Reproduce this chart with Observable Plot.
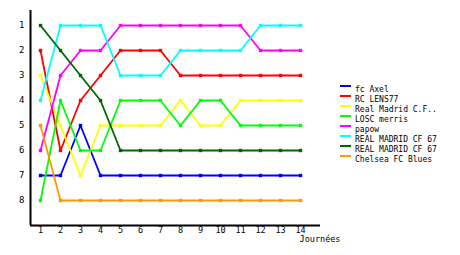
<!DOCTYPE html>
<html><head><meta charset="utf-8">
<script src="https://cdn.jsdelivr.net/npm/d3@7"></script>
<script src="https://cdn.jsdelivr.net/npm/@observablehq/plot@0.6"></script>
<style>
body{margin:0;background:#fff;}
#wrap{position:relative;width:460px;height:255px;}
#legend{position:absolute;left:340px;top:85px;font:8px "DejaVu Sans Mono",monospace;color:#000;}
.item{height:10px;line-height:10px;display:flex;align-items:flex-start;white-space:pre;}
.sw{width:11px;height:2px;margin-top:0px;margin-right:4px;}
</style></head><body><div id="wrap"></div>
<script>
const days = [1,2,3,4,5,6,7,8,9,10,11,12,13,14];
const teams = ["fc Axel","RC LENS77","Real Madrid C.F..","LOSC merris","papow","REAL MADRID CF 67","REAL MADRID CF 67 ","Chelsea FC Blues"];
const legendLabels = ["fc Axel","RC LENS77","Real Madrid C.F..","LOSC merris","papow","REAL MADRID CF 67","REAL MADRID CF 67","Chelsea FC Blues"];
const colors = ["#0000ff","#ff0000","#ffff00","#00ff00","#ff00ff","#00ffff","#006600","#ff9900"];
const ranksFcAxel     = [7,7,5,7,7,7,7,7,7,7,7,7,7,7];
const ranksRcLens     = [2,6,4,3,2,2,2,3,3,3,3,3,3,3];
const ranksRealMadrid = [3,5,7,5,5,5,5,4,5,5,4,4,4,4];
const ranksLosc       = [8,4,6,6,4,4,4,5,4,4,5,5,5,5];
const ranksPapow      = [6,3,2,2,1,1,1,1,1,1,1,2,2,2];
const ranksRm67a      = [4,1,1,1,3,3,3,2,2,2,2,1,1,1];
const ranksRm67b      = [1,2,3,4,6,6,6,6,6,6,6,6,6,6];
const ranksChelsea    = [5,8,8,8,8,8,8,8,8,8,8,8,8,8];
const yTicks = [1,2,3,4,5,6,7,8];
const xLabel = "Journées";

const series = [ranksFcAxel,ranksRcLens,ranksRealMadrid,ranksLosc,ranksPapow,ranksRm67a,ranksRm67b,ranksChelsea];
const rows = [];
series.forEach((s,i)=>s.forEach((r,j)=>rows.push({team:teams[i], day:days[j], rank:r})));

const font = "DejaVu Sans Mono, monospace";
const chart = Plot.plot({
  width: 460, height: 255,
  marginLeft: 30, marginRight: 140, marginTop: 10, marginBottom: 30,
  style: {fontFamily: font, fontSize: "8.5px", background: "#fff", color: "#000"},
  x: {domain: [0.5, 15], axis: null},
  y: {domain: [0.4, 9], reverse: true, axis: null},
  color: {domain: teams, range: colors},
  marks: [
    Plot.line(rows, {x: "day", y: "rank", z: "team", stroke: "team", strokeWidth: 1.8}),
    Plot.dot(rows, {x: "day", y: "rank", fill: "team", symbol: "square", r: 1.9}),
    Plot.ruleX([0.5], {stroke: "#000", strokeWidth: 2}),
    Plot.ruleY([9], {stroke: "#000", strokeWidth: 2}),
    Plot.axisY(yTicks, {tickSize: 0, tickPadding: 6, anchor: "left", fontSize: 9, label: null}),
    Plot.axisX(days, {tickSize: 0, tickPadding: 1, anchor: "bottom", fontSize: 8.5, label: null}),
    Plot.text([xLabel], {frameAnchor: "bottom-right", dx: 20, dy: 16, textAnchor: "end", fontSize: 8.5})
  ]
});
const wrap = document.getElementById("wrap");
wrap.appendChild(chart);
const lg = document.createElement("div");
lg.id = "legend";
legendLabels.forEach((t,i)=>{
  const it = document.createElement("div"); it.className="item";
  const sw = document.createElement("div"); sw.className="sw"; sw.style.background = colors[i];
  const tx = document.createElement("span"); tx.textContent = t;
  it.appendChild(sw); it.appendChild(tx); lg.appendChild(it);
});
wrap.appendChild(lg);
</script></body></html>
